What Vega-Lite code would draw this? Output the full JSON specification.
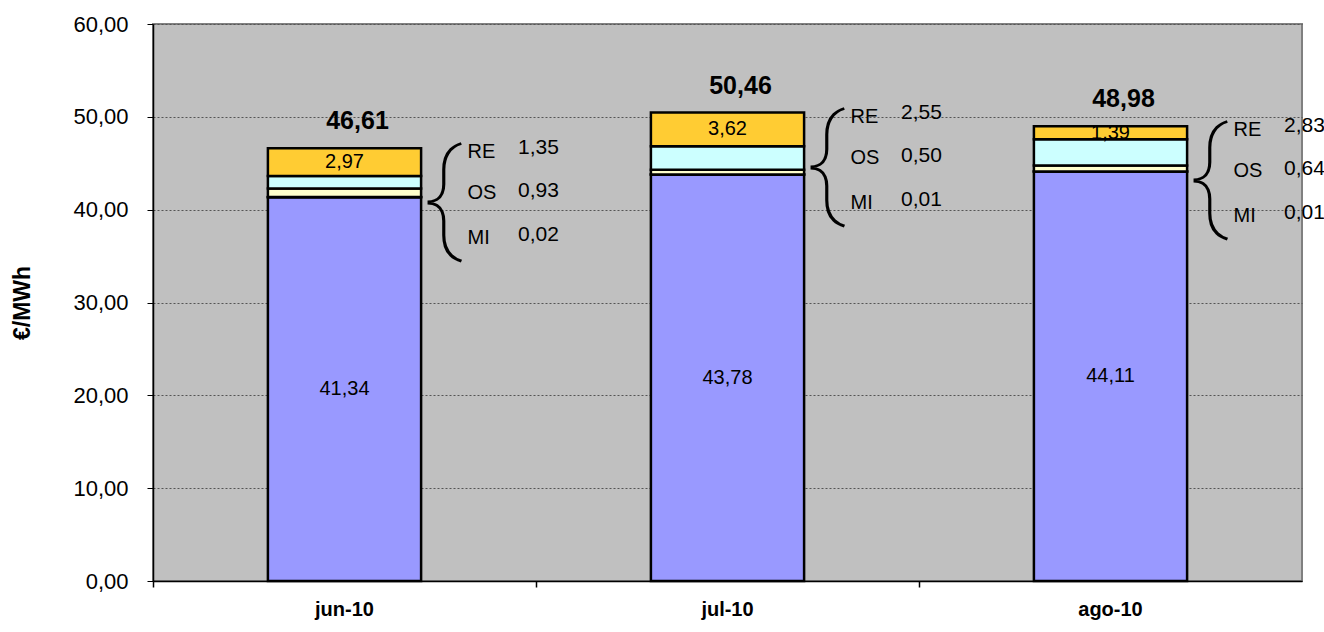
{
  "$schema": "https://vega.github.io/schema/vega-lite/v6.json",
  "width": 1149,
  "height": 557,
  "autosize": {"type": "none"},
  "padding": {"left": 153, "top": 24, "right": 22, "bottom": 51},
  "background": "white",
  "config": {
    "view": {"fill": "#C0C0C0", "stroke": "#808080", "strokeWidth": 2},
    "font": "Liberation Sans",
    "text": {"font": "Liberation Sans", "color": "black"}
  },
  "datasets": {
    "seg": [
      {"mes": "jun-10", "seg": "base", "valor": 41.34, "orden": 1, "etiqueta": "41,34"},
      {"mes": "jun-10", "seg": "MI", "valor": 0.02, "orden": 2, "etiqueta": ""},
      {"mes": "jun-10", "seg": "OS", "valor": 0.93, "orden": 3, "etiqueta": ""},
      {"mes": "jun-10", "seg": "RE", "valor": 1.35, "orden": 4, "etiqueta": ""},
      {"mes": "jun-10", "seg": "otros", "valor": 2.97, "orden": 5, "etiqueta": "2,97"},
      {"mes": "jul-10", "seg": "base", "valor": 43.78, "orden": 1, "etiqueta": "43,78"},
      {"mes": "jul-10", "seg": "MI", "valor": 0.01, "orden": 2, "etiqueta": ""},
      {"mes": "jul-10", "seg": "OS", "valor": 0.50, "orden": 3, "etiqueta": ""},
      {"mes": "jul-10", "seg": "RE", "valor": 2.55, "orden": 4, "etiqueta": ""},
      {"mes": "jul-10", "seg": "otros", "valor": 3.62, "orden": 5, "etiqueta": "3,62"},
      {"mes": "ago-10", "seg": "base", "valor": 44.11, "orden": 1, "etiqueta": "44,11"},
      {"mes": "ago-10", "seg": "MI", "valor": 0.01, "orden": 2, "etiqueta": ""},
      {"mes": "ago-10", "seg": "OS", "valor": 0.64, "orden": 3, "etiqueta": ""},
      {"mes": "ago-10", "seg": "RE", "valor": 2.83, "orden": 4, "etiqueta": ""},
      {"mes": "ago-10", "seg": "otros", "valor": 1.39, "orden": 5, "etiqueta": "1,39"}
    ],
    "tot": [
      {"mes": "jun-10", "total": 46.61, "etiqueta": "46,61"},
      {"mes": "jul-10", "total": 50.46, "etiqueta": "50,46"},
      {"mes": "ago-10", "total": 48.98, "etiqueta": "48,98"}
    ],
    "ann": [
      {"mes": "jun-10", "total": 46.61, "seg": "RE", "txt": "1,35"},
      {"mes": "jun-10", "total": 46.61, "seg": "OS", "txt": "0,93"},
      {"mes": "jun-10", "total": 46.61, "seg": "MI", "txt": "0,02"},
      {"mes": "jul-10", "total": 50.46, "seg": "RE", "txt": "2,55"},
      {"mes": "jul-10", "total": 50.46, "seg": "OS", "txt": "0,50"},
      {"mes": "jul-10", "total": 50.46, "seg": "MI", "txt": "0,01"},
      {"mes": "ago-10", "total": 48.98, "seg": "RE", "txt": "2,83"},
      {"mes": "ago-10", "total": 48.98, "seg": "OS", "txt": "0,64"},
      {"mes": "ago-10", "total": 48.98, "seg": "MI", "txt": "0,01"}
    ]
  },
  "resolve": {"axis": {"x": "independent"}},
  "layer": [
    {
      "data": {"name": "seg"},
      "mark": {"type": "bar", "width": {"band": 0.4}, "stroke": "black", "strokeWidth": 2.5},
      "encoding": {
        "x": {
          "field": "mes", "type": "nominal", "sort": ["jun-10", "jul-10", "ago-10"],
          "scale": {"paddingInner": 0, "paddingOuter": 0},
          "axis": {
            "orient": "bottom", "title": null, "ticks": false, "labelAngle": 0, "labelFontSize": 20, "labelFontWeight": "bold",
            "labelColor": "black", "labelPadding": 18, "domainColor": "black", "domainWidth": 1.5
          }
        },
        "y": {
          "field": "valor", "type": "quantitative", "stack": "zero",
          "scale": {"domain": [0, 60], "nice": false},
          "axis": {
            "title": "€/MWh", "titleFontSize": 23, "titleFontWeight": "bold", "titleColor": "black", "titlePadding": 38,
            "values": [0, 10, 20, 30, 40, 50, 60],
            "labelExpr": "replace(format(datum.value, '.2f'), '.', ',')",
            "labelFontSize": 22, "labelColor": "black", "labelPadding": 19,
            "tickSize": 6, "tickColor": "black", "domainColor": "black", "domainWidth": 1.5,
            "grid": true, "gridColor": "#555555", "gridDash": [2, 2], "gridWidth": 1
          }
        },
        "color": {
          "field": "seg", "type": "nominal",
          "scale": {"domain": ["base", "MI", "OS", "RE", "otros"], "range": ["#9999FF", "#FFFFCC", "#FFFFCC", "#CCFFFF", "#FFCC33"]},
          "legend": null
        },
        "order": {"field": "orden", "type": "quantitative"}
      }
    },
    {
      "data": {"name": "seg"},
      "mark": {"type": "text", "fontSize": 20, "baseline": "middle", "align": "center"},
      "encoding": {
        "x": {"field": "mes", "type": "nominal", "sort": ["jun-10", "jul-10", "ago-10"], "axis": null},
        "y": {"field": "valor", "type": "quantitative", "stack": "zero", "bandPosition": 0.5},
        "detail": {"field": "seg"},
        "order": {"field": "orden", "type": "quantitative"},
        "text": {"field": "etiqueta"}
      }
    },
    {
      "data": {"name": "tot"},
      "mark": {"type": "text", "fontSize": 25, "fontWeight": "bold", "baseline": "middle", "align": "center", "dx": 13, "dy": -27},
      "encoding": {
        "x": {
          "field": "mes", "type": "nominal", "sort": ["jun-10", "jul-10", "ago-10"],
          "axis": {"orient": "bottom", "title": null, "labels": false, "domain": false, "ticks": true, "bandPosition": 0, "tickSize": 6, "tickColor": "black", "tickWidth": 1.5}
        },
        "y": {"field": "total", "type": "quantitative"},
        "text": {"field": "etiqueta"}
      }
    },
    {
      "data": {"name": "tot"},
      "mark": {"type": "text", "text": "{", "font": "Roboto", "fontWeight": 100, "fontSize": 120, "baseline": "middle", "align": "center", "dx": 98, "dy": 52},
      "encoding": {
        "x": {"field": "mes", "type": "nominal", "sort": ["jun-10", "jul-10", "ago-10"], "axis": null},
        "y": {"field": "total", "type": "quantitative"}
      }
    },
    {
      "data": {"name": "ann"},
      "transform": [{"filter": "datum.seg == 'RE'"}],
      "layer": [
        {"mark": {"type": "text", "fontSize": 20, "baseline": "middle", "align": "left", "dx": 123, "dy": 4}, "encoding": {"text": {"field": "seg"}}},
        {"mark": {"type": "text", "fontSize": 21, "baseline": "middle", "align": "center", "dx": 194, "dy": 0}, "encoding": {"text": {"field": "txt"}}}
      ],
      "encoding": {
        "x": {"field": "mes", "type": "nominal", "sort": ["jun-10", "jul-10", "ago-10"], "axis": null},
        "y": {"field": "total", "type": "quantitative"}
      }
    },
    {
      "data": {"name": "ann"},
      "transform": [{"filter": "datum.seg == 'OS'"}],
      "layer": [
        {"mark": {"type": "text", "fontSize": 20, "baseline": "middle", "align": "left", "dx": 123, "dy": 45}, "encoding": {"text": {"field": "seg"}}},
        {"mark": {"type": "text", "fontSize": 21, "baseline": "middle", "align": "center", "dx": 194, "dy": 43}, "encoding": {"text": {"field": "txt"}}}
      ],
      "encoding": {
        "x": {"field": "mes", "type": "nominal", "sort": ["jun-10", "jul-10", "ago-10"], "axis": null},
        "y": {"field": "total", "type": "quantitative"}
      }
    },
    {
      "data": {"name": "ann"},
      "transform": [{"filter": "datum.seg == 'MI'"}],
      "layer": [
        {"mark": {"type": "text", "fontSize": 20, "baseline": "middle", "align": "left", "dx": 123, "dy": 90}, "encoding": {"text": {"field": "seg"}}},
        {"mark": {"type": "text", "fontSize": 21, "baseline": "middle", "align": "center", "dx": 194, "dy": 87}, "encoding": {"text": {"field": "txt"}}}
      ],
      "encoding": {
        "x": {"field": "mes", "type": "nominal", "sort": ["jun-10", "jul-10", "ago-10"], "axis": null},
        "y": {"field": "total", "type": "quantitative"}
      }
    }
  ]
}
